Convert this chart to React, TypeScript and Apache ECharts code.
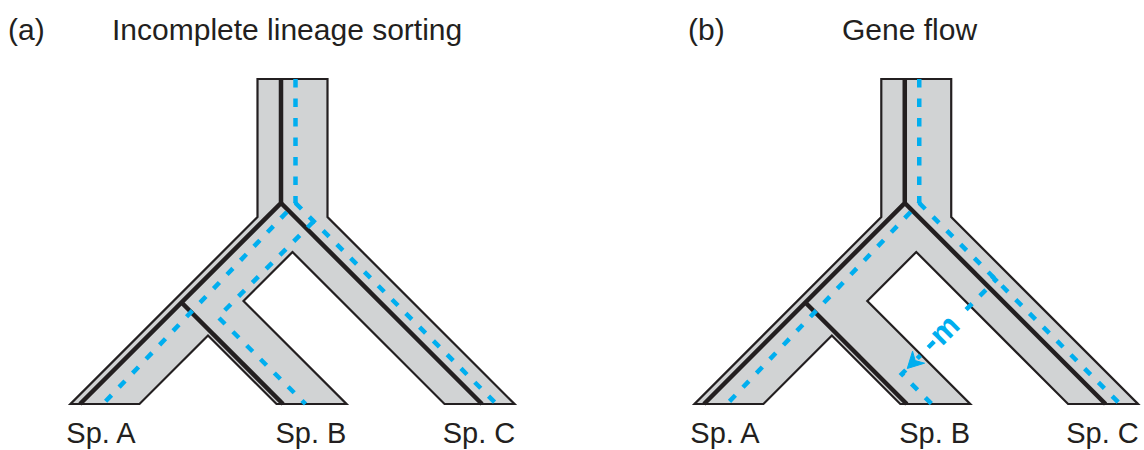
import { useEffect, useRef } from 'react';
import * as echarts from 'echarts';

// Species tree "tube" outline, in tree units (x across, y = time above present)
const speciesTube: number[][] = [
  [18.7, 32.5], [25.7, 32.5], [25.7, 18.7], [44.4, 0], [37.4, 0],
  [22.2, 15.2], [17.3, 10.3], [27.6, 0], [20.6, 0], [13.75, 6.85],
  [6.9, 0], [0, 0], [18.7, 18.7],
];

// Black lineages (species history inside the tube)
const blackTrunkToA: number[][] = [[21.05, 32.5], [21.05, 20.1], [0.95, 0]];
const blackToC: number[][] = [[21.05, 20.1], [41.15, 0]];
const blackToB: number[][] = [[11.1, 10.15], [21.25, 0]];

// Blue gene lineages shared by both panels
const blueTrunkToA: number[][] = [[22.5, 32.5], [22.5, 20.1], [3.25, 0]];
const blueToC: number[][] = [[22.5, 20.1], [42.6, 0]];

// Panel (a): incomplete lineage sorting, B coalesces with C
const blueIlsToB: number[][] = [[24.3, 18.25], [14.75, 8.7], [23.5, 0]];

// Panel (b): gene flow from C to B
const migrationBeforeM: number[][] = [[29.75, 12.8], [30.15, 12.4], [26.7, 8.95]];
const migrationAfterM: number[][] = [[24.0, 6.25], [22.3, 4.55]];
const migrationArrowTip: number[] = [21.3, 3.55];
const blueFlowToB: number[][] = [[21.15, 3.4], [20.75, 3.0], [23.75, 0]];
const migrationLabel = 'm';
const migrationLabelPos: number[] = [25.0, 7.45];

const speciesNames = ['Sp. A', 'Sp. B', 'Sp. C'];
const speciesLabelX = [3.05, 24.05, 40.85];
const speciesLabelY = -2.93;

const panelTags = ['(a)', '(b)'];
const panelTitles = ['Incomplete lineage sorting', 'Gene flow'];

const INK = '#231f20';
const TUBE = '#d1d3d4';
const BLUE = '#00aeef';
const FONT = '"Liberation Sans", Arial, Helvetica, sans-serif';

function arrowPoints(tip: number[], len: number, half: number): number[][] {
  const r = Math.SQRT1_2;
  const back = [r, r];
  const perp = [r, -r];
  return [
    tip,
    [tip[0] + len * back[0] + half * perp[0], tip[1] + len * back[1] + half * perp[1]],
    [tip[0] + 0.7 * len * back[0], tip[1] + 0.7 * len * back[1]],
    [tip[0] + len * back[0] - half * perp[0], tip[1] + len * back[1] - half * perp[1]],
  ];
}

function lineSeries(idx: number, data: number[][], color: string, width: number, dashed: boolean, z: number) {
  return {
    type: 'line',
    xAxisIndex: idx,
    yAxisIndex: idx,
    data,
    symbol: 'none',
    silent: true,
    clip: false,
    z,
    lineStyle: {
      color,
      width,
      type: dashed ? [8.5, 11] : 'solid',
      dashOffset: 0,
      cap: 'butt',
      join: 'miter',
    },
  };
}

function textStyle(text: string, font: string, fill: string, align: string) {
  return {
    text,
    font,
    fill,
    align,
    textAlign: align,
    verticalAlign: 'middle',
    textVerticalAlign: 'middle',
  };
}

function panelSeries(idx: number): any[] {
  const s: any[] = [];
  s.push({
    type: 'custom',
    coordinateSystem: 'cartesian2d',
    xAxisIndex: idx,
    yAxisIndex: idx,
    data: [[0, 0]],
    silent: true,
    clip: false,
    z: 1,
    renderItem: (_p: any, api: any) => ({
      type: 'polygon',
      shape: { points: speciesTube.map((p) => api.coord(p)) },
      style: { fill: TUBE, stroke: INK, lineWidth: 2.2, lineJoin: 'miter' },
    }),
  });
  s.push(lineSeries(idx, blackTrunkToA, INK, 4.5, false, 2));
  s.push(lineSeries(idx, blackToC, INK, 4.5, false, 2));
  s.push(lineSeries(idx, blackToB, INK, 4.5, false, 2));
  s.push(lineSeries(idx, blueTrunkToA, BLUE, 4.5, true, 3));
  s.push(lineSeries(idx, blueToC, BLUE, 4.5, true, 3));
  if (idx === 0) {
    s.push(lineSeries(idx, blueIlsToB, BLUE, 4.5, true, 3));
  } else {
    s.push(lineSeries(idx, migrationBeforeM, BLUE, 4.5, true, 3));
    s.push(lineSeries(idx, migrationAfterM, BLUE, 4.5, true, 3));
    s.push(lineSeries(idx, blueFlowToB, BLUE, 4.5, true, 3));
    s.push({
      type: 'custom',
      coordinateSystem: 'cartesian2d',
      xAxisIndex: idx,
      yAxisIndex: idx,
      data: [migrationArrowTip],
      silent: true,
      clip: false,
      z: 4,
      renderItem: (_p: any, api: any) => ({
        type: 'polygon',
        shape: {
          points: arrowPoints([api.value(0), api.value(1)], 1.6, 0.85).map((p) => api.coord(p)),
        },
        style: { fill: BLUE, stroke: BLUE, lineWidth: 1 },
      }),
    });
    s.push({
      type: 'custom',
      coordinateSystem: 'cartesian2d',
      xAxisIndex: idx,
      yAxisIndex: idx,
      data: [migrationLabelPos],
      silent: true,
      clip: false,
      z: 4,
      renderItem: (_p: any, api: any) => {
        const pt = api.coord([api.value(0), api.value(1)]);
        return {
          type: 'text',
          x: pt[0],
          y: pt[1],
          rotation: Math.PI / 4,
          style: textStyle(migrationLabel, `bold 31px ${FONT}`, BLUE, 'center'),
        };
      },
    });
  }
  s.push({
    type: 'custom',
    coordinateSystem: 'cartesian2d',
    xAxisIndex: idx,
    yAxisIndex: idx,
    data: speciesLabelX.map((x) => [x, speciesLabelY]),
    silent: true,
    clip: false,
    z: 5,
    renderItem: (p: any, api: any) => {
      const pt = api.coord([api.value(0), api.value(1)]);
      return {
        type: 'text',
        x: pt[0],
        y: pt[1],
        style: textStyle(speciesNames[p.dataIndex], `29px ${FONT}`, INK, 'center'),
      };
    },
  });
  return s;
}

export default function App() {
  const ref = useRef<HTMLDivElement>(null);
  useEffect(() => {
    if (!ref.current) return;
    const chart = echarts.init(ref.current, undefined, { renderer: 'svg' });
    const titleFont = `30px ${FONT}`;
    chart.setOption({
      animation: false,
      backgroundColor: '#ffffff',
      grid: [
        { left: 70.5, top: 4, width: 500, height: 446 },
        { left: 694.5, top: 4, width: 450, height: 446 },
      ],
      xAxis: [
        { type: 'value', gridIndex: 0, min: 0, max: 50, show: false },
        { type: 'value', gridIndex: 1, min: 0, max: 45, show: false },
      ],
      yAxis: [
        { type: 'value', gridIndex: 0, min: -4.6, max: 40, show: false },
        { type: 'value', gridIndex: 1, min: -4.6, max: 40, show: false },
      ],
      graphic: [
        { type: 'text', x: 8, y: 29.6, silent: true, style: textStyle(panelTags[0], titleFont, INK, 'left') },
        { type: 'text', x: 112, y: 29.6, silent: true, style: textStyle(panelTitles[0], titleFont, INK, 'left') },
        { type: 'text', x: 688, y: 29.6, silent: true, style: textStyle(panelTags[1], titleFont, INK, 'left') },
        { type: 'text', x: 842, y: 29.6, silent: true, style: textStyle(panelTitles[1], titleFont, INK, 'left') },
      ],
      series: [...panelSeries(0), ...panelSeries(1)],
    });
    return () => chart.dispose();
  }, []);
  return (
    <div
      ref={ref}
      style={{ position: 'fixed', left: 0, top: 0, width: 1144, height: 450, background: '#fff' }}
    />
  );
}
